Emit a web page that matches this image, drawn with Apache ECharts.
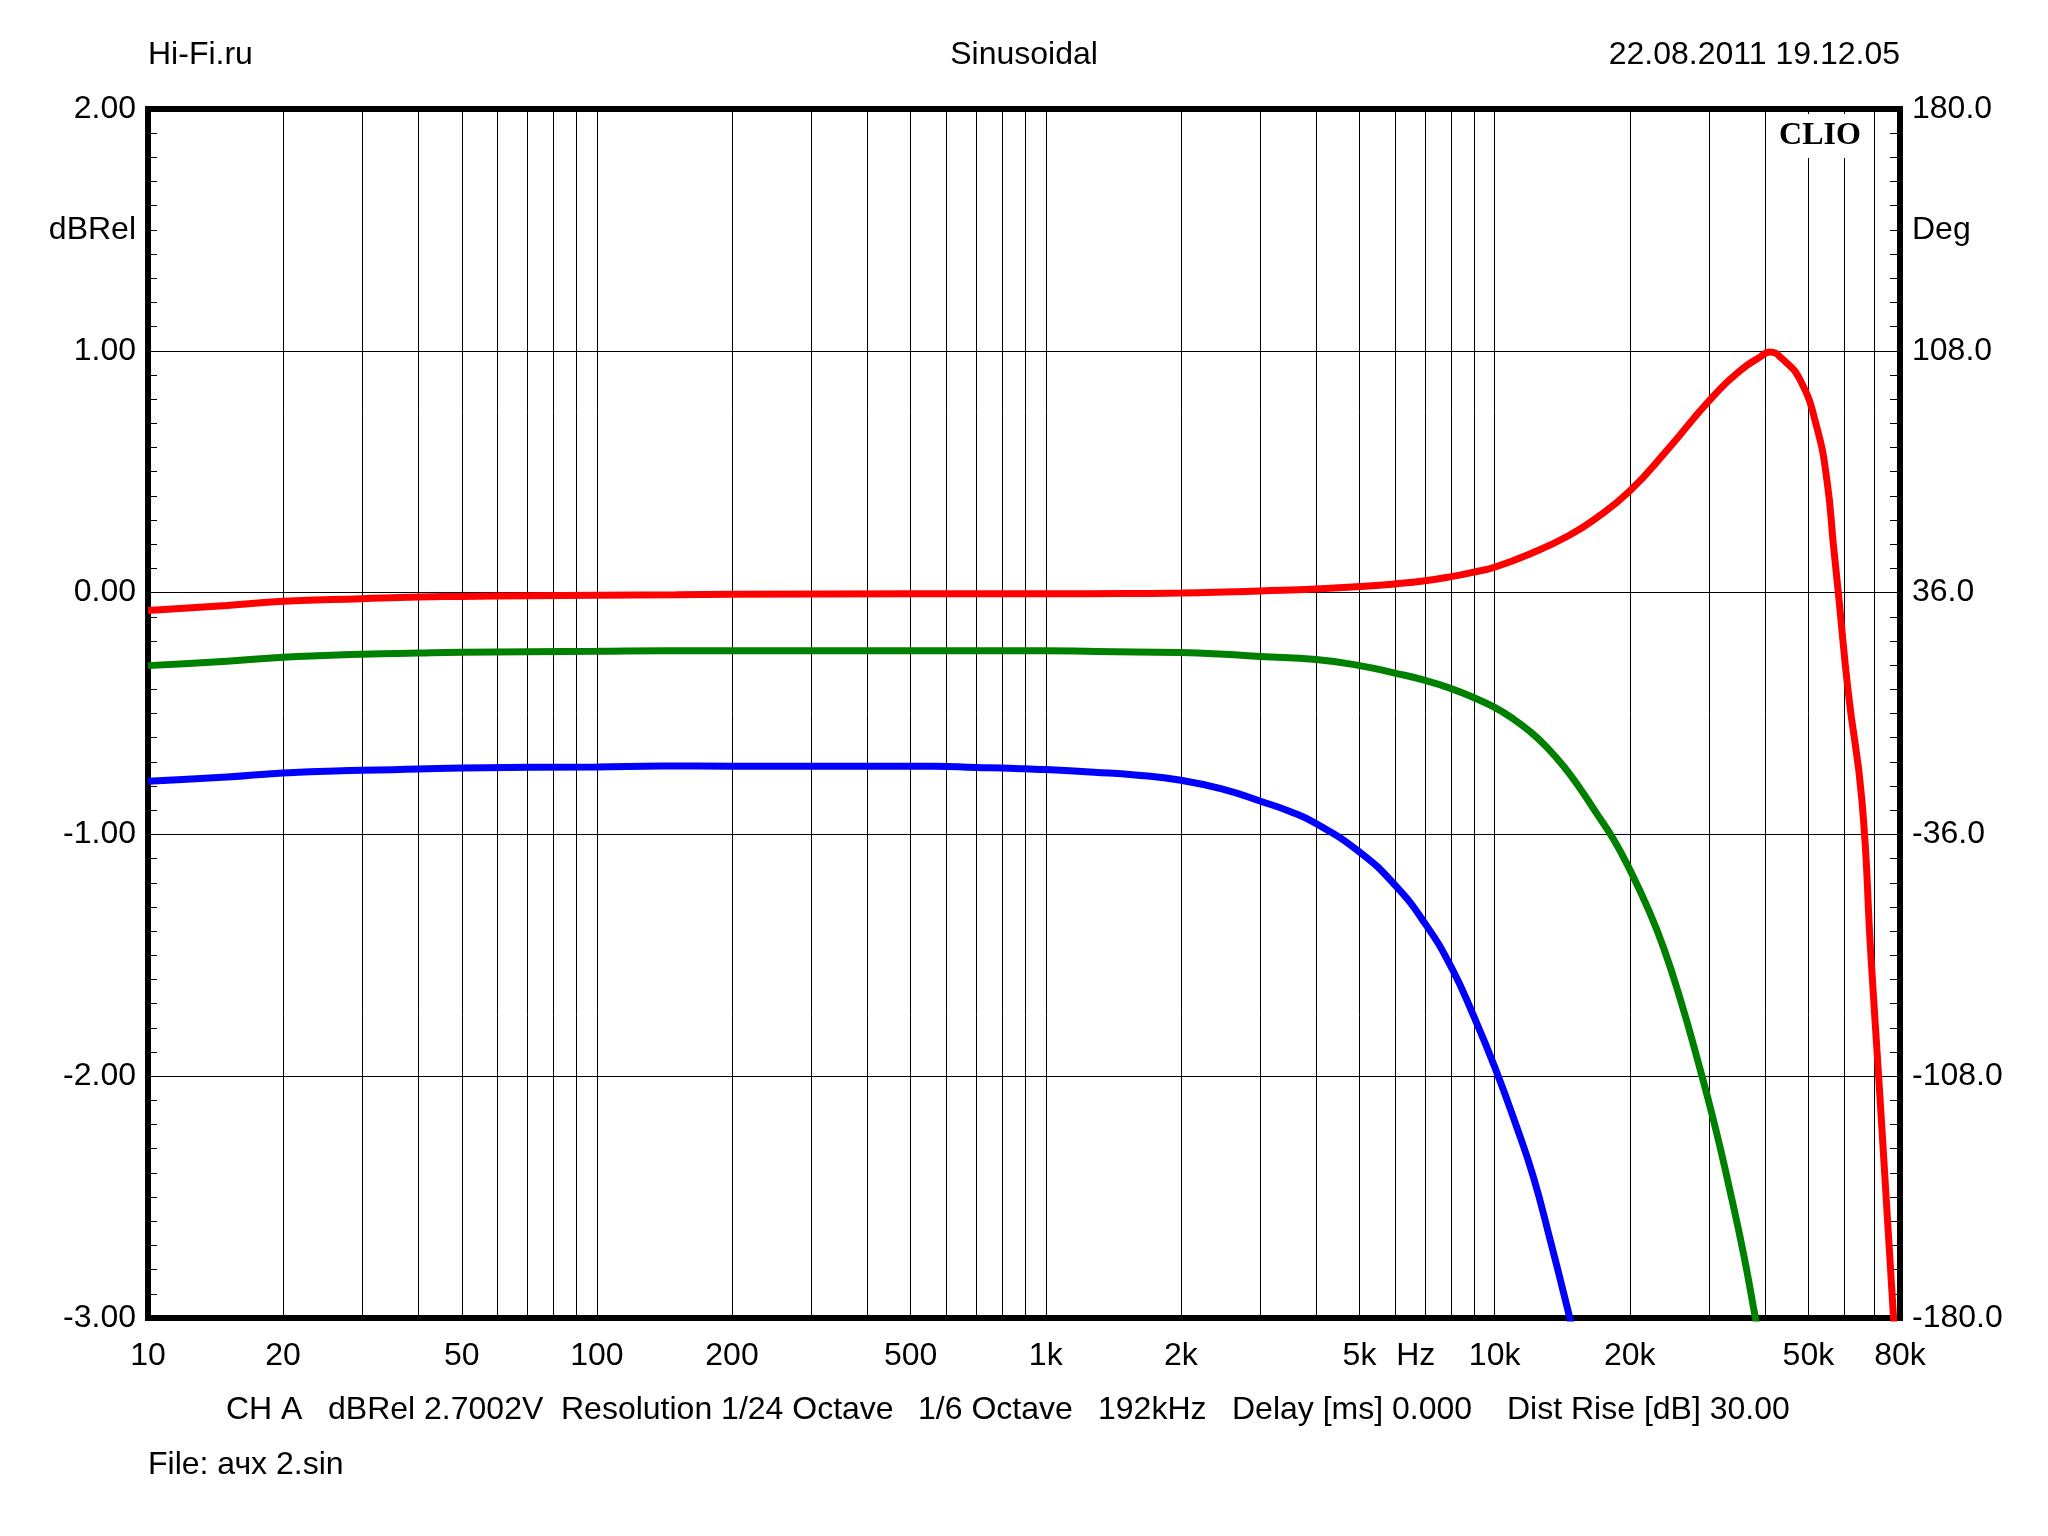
<!DOCTYPE html>
<html>
<head>
<meta charset="utf-8">
<script src="https://cdn.jsdelivr.net/npm/echarts@6/dist/echarts.min.js"></script>
<style>html,body{margin:0;padding:0;background:#fff}#c{width:2048px;height:1536px}</style>
</head>
<body>
<div id="c"></div>
<script>
// ---- data ----
const redFreq = [10,15,20,30,40,50,70,100,150,200,500,1000,1500,2000,2500,3000,4000,5000,6000,7000,8000,9000,10000,12200,14500,16600,20000,24200,30100,35300,39000,41000,43700,48000,52200,55000,56900,58300,61400,65800,68900,71700,74500,77400,78400];
const redDb = [-0.074,-0.053,-0.036,-0.025,-0.018,-0.016,-0.013,-0.011,-0.009,-0.007,-0.005,-0.005,-0.004,-0.002,0.002,0.007,0.015,0.025,0.036,0.049,0.066,0.085,0.105,0.166,0.232,0.300,0.42,0.588,0.795,0.919,0.974,0.995,0.967,0.877,0.684,0.464,0.19,0.0,-0.418,-0.859,-1.5,-2.0,-2.5,-3.0,-3.17];

const greenFreq = [10,15,20,30,40,50,100,140,200,500,1000,1300,2000,2500,3000,4000,5000,6000,7000,8000,9000,10000,11000,12000,13000,14200,15500,16900,18400,20000,22000,23800,25900,28200,31000,33500,35900,38100,39000];
const greenDb = [-0.302,-0.284,-0.267,-0.255,-0.25,-0.247,-0.243,-0.240,-0.240,-0.240,-0.240,-0.244,-0.248,-0.255,-0.264,-0.277,-0.302,-0.333,-0.363,-0.397,-0.435,-0.475,-0.522,-0.575,-0.635,-0.715,-0.81,-0.915,-1.02,-1.145,-1.31,-1.47,-1.68,-1.92,-2.21,-2.48,-2.74,-3.0,-3.1];

const blueFreq = [10,15,20,30,40,50,100,140,200,565,700,800,900,1000,1280,1580,2000,2500,3000,3500,4000,5000,6000,7000,8000,9000,10000,11200,12200,13300,14500,15000];
const blueDb = [-0.78,-0.763,-0.746,-0.735,-0.73,-0.725,-0.721,-0.717,-0.718,-0.718,-0.723,-0.725,-0.729,-0.732,-0.743,-0.754,-0.776,-0.815,-0.862,-0.905,-0.955,-1.073,-1.21,-1.369,-1.548,-1.755,-1.961,-2.21,-2.417,-2.678,-2.954,-3.07];

// ---- axes / ticks ----
const freqLabels = [10,20,50,100,200,500,1000,2000,5000,10000,20000,50000,80000];
const hzLabelFreq = 6670;
const freqGrid = [20,30,40,50,60,70,80,90,100,200,300,400,500,600,700,800,900,1000,2000,3000,4000,5000,6000,7000,8000,9000,10000,20000,30000,40000,50000,60000,70000];
const dbLabels = [-3,-2,-1,0,1,2];
const dbNamePos = 1.5;
const degLabels = [-180,-108,-36,36,108,180];
const degNamePos = 144;
const degMinorStep = 7.2;

const FONT = '"Liberation Sans", Arial, sans-serif';
const lg = v => Math.log10(v);
const degMinor = [];
for (let k = 0; k <= 50; k++) degMinor.push(-180 + k * degMinorStep);

function zip(f, d) { return f.map((x, i) => [x, d[i]]); }

function fmtFreq(v) {
  if (Math.abs(v - lg(hzLabelFreq)) < 1e-9) return 'Hz';
  const f = Math.round(Math.pow(10, v));
  return f >= 1000 ? (f / 1000) + 'k' : String(f);
}

const chart = echarts.init(document.getElementById('c'), null, {renderer: 'canvas'});
const labelStyle = {color: '#000', fontSize: 32, fontFamily: FONT};
const LW = 7;

function txt(x, y, text, align) {
  return {type: 'text', x: x, y: y, style: {text: text, font: '32px ' + FONT, fill: '#000',
          align: align || 'left', verticalAlign: 'middle', textAlign: align || 'left', textVerticalAlign: 'middle'}};
}

const option = {
  animation: false,
  backgroundColor: '#fff',
  grid: {left: 148, right: 148, top: 109, bottom: 218, show: true,
         borderColor: '#000', borderWidth: 6, backgroundColor: 'transparent'},
  xAxis: [
    {type: 'log', logBase: 10, min: 10, max: 80000, position: 'top', show: false, gridIndex: 0},
    {type: 'value', min: lg(10), max: lg(80000), position: 'bottom', gridIndex: 0,
     axisLine: {show: false},
     axisTick: {show: false, customValues: freqGrid.map(lg)},
     splitLine: {show: true, lineStyle: {color: '#000', width: 1}},
     axisLabel: Object.assign({customValues: freqLabels.map(lg).concat([lg(hzLabelFreq)]),
                               formatter: fmtFreq, margin: 22}, labelStyle)}
  ],
  yAxis: [
    {type: 'value', min: -3, max: 2, interval: 1, position: 'left',
     axisLine: {show: false},
     axisTick: {show: false, inside: true},
     minorTick: {show: true, splitNumber: 10, length: 9, lineStyle: {color: '#000', width: 1}},
     splitLine: {show: true, lineStyle: {color: '#000', width: 1}},
     axisLabel: Object.assign({customValues: dbLabels.concat([dbNamePos]),
       formatter: v => Math.abs(v - dbNamePos) < 1e-9 ? 'dBRel' : v.toFixed(2), margin: 12}, labelStyle)},
    {type: 'value', min: -180, max: 180, position: 'right',
     axisLine: {show: false},
     splitLine: {show: false},
     axisTick: {show: true, inside: true, length: 10, customValues: degMinor, lineStyle: {color: '#000', width: 1}},
     axisLabel: Object.assign({customValues: degLabels.concat([degNamePos]),
       formatter: v => Math.abs(v - degNamePos) < 1e-9 ? 'Deg' : v.toFixed(1), margin: 12}, labelStyle)}
  ],
  series: [
    {name: 'red', type: 'line', xAxisIndex: 0, yAxisIndex: 0, data: zip(redFreq, redDb),
     showSymbol: false, smooth: 0.5, lineStyle: {color: '#ff0000', width: LW}, itemStyle: {color: '#ff0000'}, z: 4},
    {name: 'green', type: 'line', xAxisIndex: 0, yAxisIndex: 0, data: zip(greenFreq, greenDb),
     showSymbol: false, smooth: 0.5, lineStyle: {color: '#008000', width: LW}, itemStyle: {color: '#008000'}, z: 3},
    {name: 'blue', type: 'line', xAxisIndex: 0, yAxisIndex: 0, data: zip(blueFreq, blueDb),
     showSymbol: false, smooth: 0.5, lineStyle: {color: '#0000ff', width: LW}, itemStyle: {color: '#0000ff'}, z: 3}
  ],
  graphic: [
    txt(148, 55, 'Hi-Fi.ru', 'left'),
    txt(1024, 55, 'Sinusoidal', 'center'),
    txt(1900, 55, '22.08.2011 19.12.05', 'right'),
    {type: 'text', x: 1820, y: 136, z: 10, style: {text: 'CLIO', font: 'bold 32px "Liberation Serif", "Times New Roman", serif', fill: '#000', align: 'center', verticalAlign: 'middle', textAlign: 'center', textVerticalAlign: 'middle', backgroundColor: '#fff', padding: [10, 8, 2, 8]}},
    txt(226, 1410, 'CH A'),
    txt(328, 1410, 'dBRel 2.7002V'),
    txt(561, 1410, 'Resolution 1/24 Octave'),
    txt(918, 1410, '1/6 Octave'),
    txt(1098, 1410, '192kHz'),
    txt(1232, 1410, 'Delay [ms] 0.000'),
    txt(1507, 1410, 'Dist Rise [dB] 30.00'),
    txt(148, 1465, 'File: ачх 2.sin')
  ]
};
chart.setOption(option);
</script>
</body>
</html>
